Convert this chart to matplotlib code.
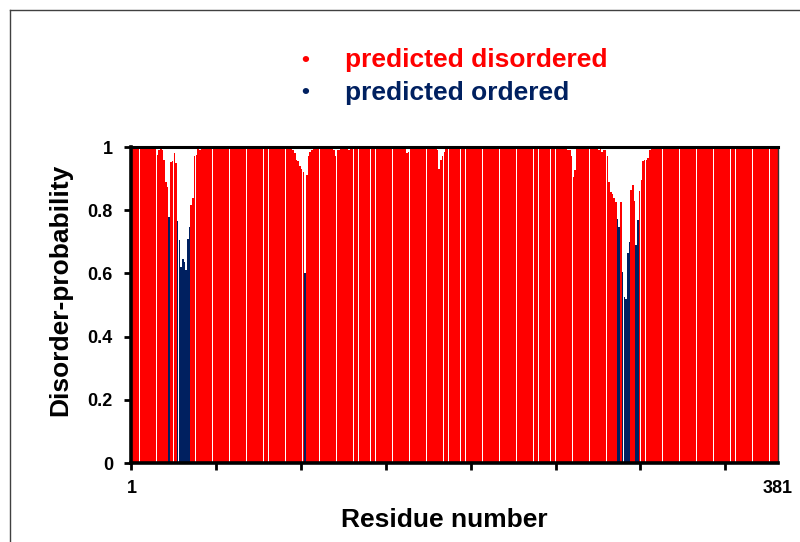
import matplotlib
matplotlib.use("Agg")
import matplotlib.pyplot as plt
from matplotlib.lines import Line2D

# Per-residue disorder probability (residues 1..381), 20 per row
disorder = [
    1, 1, 1, 1, 1, 1, 1, 0.995, 1, 1, 1, 1, 1, 1, 1, 0.975, 0.99, 1, 0.99, 0.96,
    0.89, 0.875, 0.78, 0.953, 0.957, 0.98, 0.95, 0.766, 0.706, 0.62, 0.645, 0.635, 0.61, 0.71, 0.747, 0.816, 0.84, 0.97, 0.975, 1,
    0.99, 1, 1, 1, 1, 1, 1, 1, 1, 1, 1, 1, 1, 1, 0.995, 1, 1, 1, 1, 1,
    1, 1, 1, 1, 1, 1, 1, 1, 1, 0.995, 1, 1, 1, 1, 1, 1, 1, 1, 1, 1,
    1, 1, 1, 1, 1, 1, 1, 0.995, 1, 1, 1, 1, 1, 1, 1, 0.99, 0.98, 0.96, 0.955, 0.94,
    0.93, 0.92, 0.60, 0.91, 0.97, 0.985, 0.99, 1, 1, 1, 1, 0.995, 1, 1, 1, 1, 1, 1, 1, 0.99,
    0.97, 0.99, 0.99, 1, 1, 1, 1, 0.995, 0.99, 1, 1, 1, 1, 1, 1, 1, 0.995, 1, 1, 1,
    1, 1, 1, 1, 0.995, 1, 1, 1, 1, 1, 1, 1, 1, 1, 1, 1, 1, 1, 1, 1,
    1, 1, 0.98, 0.985, 1, 0.995, 1, 1, 1, 1, 1, 1, 1, 1, 1, 1, 1, 1, 1, 1,
    0.99, 0.93, 0.96, 0.97, 0.985, 1, 1, 1, 1, 1, 1, 1, 1, 1, 1, 1, 1, 1, 1, 0.995,
    1, 1, 1, 1, 1, 1, 1, 1, 1, 1, 1, 1, 1, 1, 1, 1, 1, 1, 1, 1,
    1, 1, 1, 1, 1, 1, 1, 1, 1, 0.995, 1, 1, 1, 1, 1, 1, 1, 1, 1, 1,
    1, 1, 1, 1, 1, 1, 1, 1, 1, 1, 1, 1, 1, 1, 1, 1, 0.995, 0.99, 0.99, 0.97,
    0.906, 0.927, 0.995, 1, 1, 1, 1, 0.995, 1, 1, 1, 1, 1, 1, 1, 0.99, 1, 0.985, 0.99, 0.99,
    0.97, 0.89, 0.859, 0.85, 0.838, 0.827, 0.772, 0.748, 0.827, 0.605, 0.526, 0.52, 0.664, 0.70, 0.864, 0.88, 0.83, 0.69, 0.77, 0.86,
    0.896, 0.955, 0.96, 0.96, 0.965, 0.99, 1, 1, 1, 1, 1, 1, 1, 1, 0.995, 1, 1, 1, 1, 1,
    1, 1, 1, 1, 1, 1, 1, 1, 1, 0.995, 1, 1, 1, 1, 1, 1, 1, 1, 1, 1,
    1, 1, 1, 1, 1, 1, 1, 1, 1, 0.995, 1, 1, 1, 1, 1, 1, 1, 1, 1, 1,
    1, 1, 1, 1, 1, 1, 1, 1, 1, 0.995, 1, 1, 1, 1, 1, 1, 1, 1, 1, 1, 1,
]
residues = list(range(1, len(disorder) + 1))

# Residues predicted as ordered
ordered_residues = [23, 28, 29, 30, 31, 32, 33, 34, 35, 103,
                    287, 288, 290, 291, 292, 293, 294, 298, 299]

legend_labels = ["predicted disordered", "predicted ordered"]
y_ticks = [0, 0.2, 0.4, 0.6, 0.8, 1]
x_tick_marks = [0, 50, 100, 150, 200, 250, 300, 350]

RED = "#FF0000"
NAVY = "#002060"
SANS = ["Liberation Sans", "DejaVu Sans"]

colors = [NAVY if r in ordered_residues else RED for r in residues]

fig = plt.figure(figsize=(8.0, 5.42), dpi=100)
ax = fig.add_axes([131 / 800, 79 / 542, (778 - 131) / 800, (463 - 147) / 542])

ax.bar(residues, disorder, width=0.93, color=colors, linewidth=0, antialiased=True)

ax.set_xlim(0.5, len(disorder) + 0.5)
ax.set_ylim(0, 1)

tick_font = dict(family=SANS, weight="bold", size=13)
label_font = dict(family=SANS, weight="bold", size=19)

ax.set_yticks(y_ticks)
ax.set_yticklabels(["0", "0.2", "0.4", "0.6", "0.8", "1"], **tick_font)
ax.tick_params(axis="y", direction="out", length=5, width=2, pad=8)

# Tick marks every 50 residues, labels only at both ends
ax.set_xticks([m + 0.5 for m in x_tick_marks], minor=True)
ax.tick_params(axis="x", which="minor", direction="out", length=5, width=2)
ax.set_xticks([1, len(disorder)])
ax.set_xticklabels(["1", str(len(disorder))], **tick_font)
ax.tick_params(axis="x", which="major", length=0, pad=12)

for side in ("left", "bottom"):
    ax.spines[side].set_linewidth(2.6)
    ax.spines[side].set_color("black")
ax.spines["top"].set_linewidth(2.2)
ax.spines["top"].set_color("black")
ax.spines["right"].set_linewidth(1.0)
ax.spines["right"].set_color("#333333")

ax.set_ylabel("Disorder-probability", va="center", **label_font)
ax.yaxis.set_label_coords((60 - 131) / 647, (463 - 290) / 316)
ax.set_xlabel("Residue number", va="center", **label_font)
ax.xaxis.set_label_coords((444 - 131) / 647, (463 - 520) / 316)

# Legend drawn as coloured bullet lines above the plot
legend_colors = [RED, NAVY]
legend_y = [60, 93]
for lab, col, yp in zip(legend_labels, legend_colors, legend_y):
    fy = 1 - yp / 542
    fig.text(305 / 800, fy, "\u2022", color=col, ha="center", va="center",
             fontsize=16, weight="bold", family=SANS)
    fig.text(345 / 800, fy, lab, color=col, ha="left", va="center",
             fontsize=19, weight="bold", family=SANS)

# Outer frame line
fig.add_artist(Line2D([9.5 / 800, 9.5 / 800], [0, 1 - 9.5 / 542], color="#404040", lw=1.0))
fig.add_artist(Line2D([9.5 / 800, 1], [1 - 9.5 / 542, 1 - 9.5 / 542], color="#404040", lw=1.0))

fig.savefig("out.png", dpi=100)
